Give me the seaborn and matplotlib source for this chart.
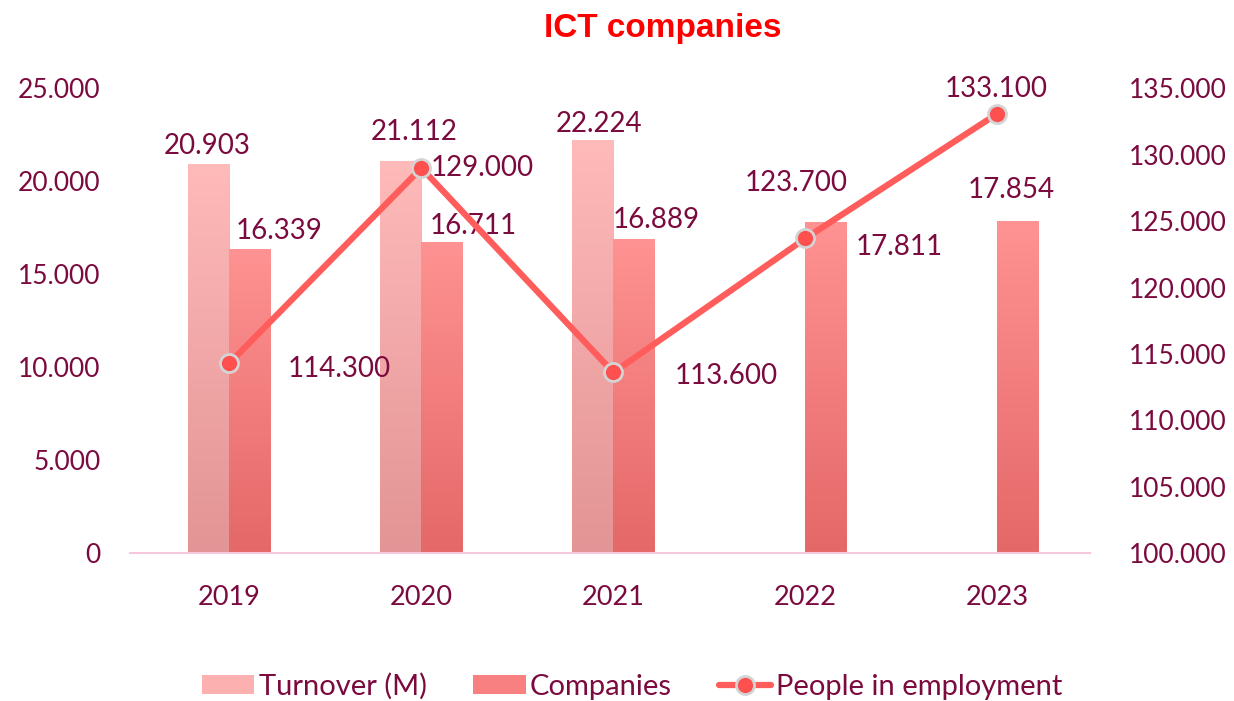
import numpy as np
import pandas as pd
import matplotlib
matplotlib.use("Agg")
import matplotlib.pyplot as plt
import seaborn as sns
from matplotlib.colors import LinearSegmentedColormap
from matplotlib.patches import Patch
from matplotlib.lines import Line2D
from matplotlib.ticker import FuncFormatter, MultipleLocator

# ── data ─────────────────────────────────────────────────────────────────────
years      = ["2019", "2020", "2021", "2022", "2023"]
turnover   = [20903, 21112, 22224, np.nan, np.nan]
companies  = [16339, 16711, 16889, 17811, 17854]
employment = [114300, 129000, 113600, 123700, 133100]

TXT = "#7b0a3e"
LINE = "#ff5c5c"

sns.set_theme(style="white")
plt.rcParams["font.family"] = ["Lato", "DejaVu Sans"]


def dotfmt(v, _=None):
    return f"{v:,.0f}".replace(",", ".")


def gradient_fill(ax, patch, top, bottom):
    x0, y0 = patch.get_x(), patch.get_y()
    w, h = patch.get_width(), patch.get_height()
    cmap = LinearSegmentedColormap.from_list("g", [bottom, top])
    grad = np.linspace(0, 1, 256).reshape(-1, 1)
    im = ax.imshow(grad, extent=[x0, x0 + w, y0, y0 + h], origin="lower",
                   aspect="auto", cmap=cmap, zorder=patch.get_zorder())
    im.set_clip_path(patch)
    patch.set_facecolor("none")


df = pd.DataFrame({
    "year": years * 2,
    "series": ["Turnover (M)"] * len(years) + ["Companies"] * len(years),
    "value": turnover + companies,
})

fig = plt.figure(figsize=(12.34, 7.01), dpi=100)
ax = fig.add_axes([0.105, 0.211, 0.778, 0.663])

sns.barplot(data=df.dropna(), x="year", y="value", hue="series", order=years,
            hue_order=["Turnover (M)", "Companies"],
            palette=["#fdb0b0", "#fa8585"], width=0.43, saturation=1,
            legend=False, ax=ax, linewidth=0)

grads = [("#ffbaba", "#e39494"), ("#ff9292", "#e56868")]
# per-year label offsets in pixels (dx, dy)
off_turn = {0: (-2, 18), 1: (13, 29), 2: (6, 16)}
off_comp = {0: (29, 18), 1: (31, 16), 2: (22, 19), 3: (73, -25), 4: (-7, 31)}
for cont, (top, bot), offs in zip(ax.containers, grads, [off_turn, off_comp]):
    for p in cont.patches:
        if np.isnan(p.get_height()) or p.get_height() == 0:
            continue
        gradient_fill(ax, p, top, bot)
        xc = p.get_x() + p.get_width() / 2
        i = int(round(xc))
        dx, dy = offs[i]
        ax.annotate(dotfmt(p.get_height()), (xc, p.get_height()),
                    xytext=(dx, dy), textcoords="offset pixels",
                    ha="center", va="center", fontsize=20, color=TXT)

ax.set_xlim(-0.52, 4.48)
ax.set_ylim(0, 25000)
ax.yaxis.set_major_locator(MultipleLocator(5000))
ax.yaxis.set_major_formatter(FuncFormatter(dotfmt))
ax.set_xlabel("")
ax.set_ylabel("")
for s in ["left", "right", "top"]:
    ax.spines[s].set_visible(False)
ax.spines["bottom"].set_color("#f6c6dc")
ax.spines["bottom"].set_linewidth(1.5)
ax.tick_params(axis="y", length=0, pad=21, labelsize=19, labelcolor=TXT)
ax.tick_params(axis="x", length=0, pad=23, labelsize=19.5, labelcolor=TXT)

# ── line on secondary axis ───────────────────────────────────────────────────
ax2 = ax.twinx()
xs = np.arange(len(years))
sns.lineplot(x=xs, y=employment, ax=ax2, color=LINE, linewidth=4.5,
             marker="o", markersize=13, markerfacecolor="#ff5050",
             markeredgecolor="#d4d4d4", markeredgewidth=2)
off_emp = [(110, -6), (61, 0), (113, -4), (-9, 55), (-1, 25)]
for x, v, (dx, dy) in zip(xs, employment, off_emp):
    ax2.annotate(dotfmt(v), (x, v), xytext=(dx, dy), textcoords="offset pixels",
                 ha="center", va="center", fontsize=20, color=TXT)
ax2.set_ylim(100000, 135000)
ax2.yaxis.set_major_locator(MultipleLocator(5000))
ax2.yaxis.set_major_formatter(FuncFormatter(dotfmt))
ax2.tick_params(axis="y", length=0, pad=28, labelsize=19, labelcolor=TXT)
for s in ["left", "right", "top", "bottom"]:
    ax2.spines[s].set_visible(False)
ax2.grid(False)
ax.grid(False)

fig.text(0.537, 0.96, "ICT companies", ha="center", va="center",
         fontsize=24, fontweight="bold", color="#ff0000",
         family=["Liberation Sans", "DejaVu Sans"])

handles = [
    Patch(facecolor="#fdb0b0", edgecolor="none"),
    Patch(facecolor="#f98080", edgecolor="none"),
    Line2D([0], [0], color=LINE, lw=4.5, marker="o", markersize=13,
           markerfacecolor="#ff5050", markeredgecolor="#d4d4d4", markeredgewidth=2),
]
fig.legend(handles, ["Turnover (M)", "Companies", "People in employment"],
           loc="center", bbox_to_anchor=(0.512, 0.021), ncol=3, frameon=False,
           fontsize=21, labelcolor=TXT, handlelength=1.8, handleheight=0.6,
           handletextpad=0.15, columnspacing=1.6, borderpad=0.1)

fig.savefig("out.png", dpi=100)
